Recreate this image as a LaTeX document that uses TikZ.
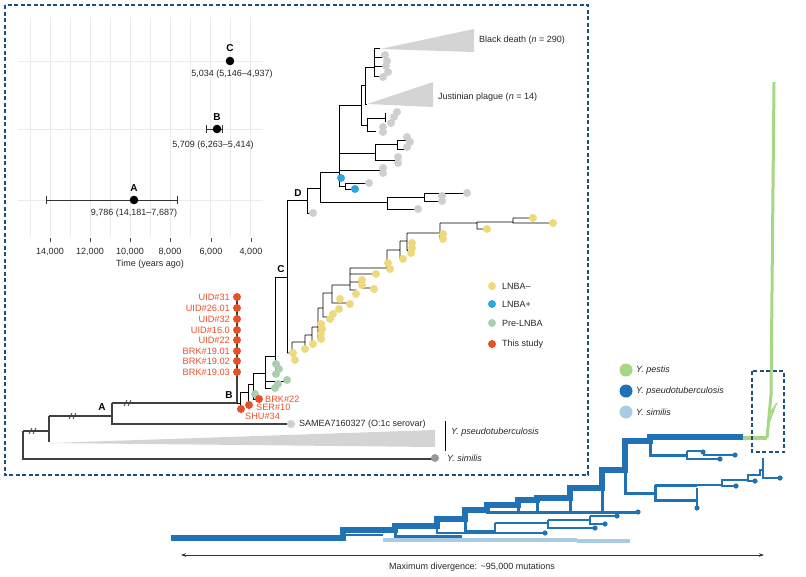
\documentclass[tikz,border=0pt]{standalone}
\usepackage{fontspec}
\setmainfont{Liberation Sans}
\usetikzlibrary{arrows.meta}
\definecolor{framecol}{HTML}{1F4E79}
\definecolor{lnbaneg}{HTML}{EED97C}
\definecolor{lnbapos}{HTML}{2AA7E0}
\definecolor{prelnba}{HTML}{A9CFAE}
\definecolor{thisstudy}{HTML}{E8502A}
\definecolor{tipgrey}{HTML}{CFCFCF}
\definecolor{wedgegrey}{HTML}{D4D4D4}
\definecolor{gridgrey}{HTML}{EBEBEB}
\definecolor{pestis}{HTML}{A6D785}
\definecolor{pseudo}{HTML}{2171B5}
\definecolor{similis}{HTML}{A9CCE3}
\tikzset{
  gridline/.style={draw=gridgrey, line width=0.6pt},
  errbar/.style={draw=black!80, line width=0.8pt},
  backbone/.style={draw=black!75, line width=1.3pt},
  treeline/.style={draw=black, line width=0.9pt},
  lab/.style={font=\fontsize{9}{10}\selectfont, text=black!85, inner sep=0pt},
  redlab/.style={lab, font=\fontsize{9.2}{10}\selectfont, text=thisstudy},
  cladelab/.style={font=\bfseries\fontsize{10}{12}\selectfont, inner sep=0pt},
  trunk/.style={draw=pseudo, line width=5.5pt},
  limb/.style={draw=pseudo, line width=3pt},
  twig/.style={draw=pseudo, line width=1.8pt},
  insetframe/.style={draw=framecol, line width=1.6pt, dash pattern=on 4pt off 2.5pt},
}
\newcommand{\brkmark}[2]{\draw[black!75, line width=0.8pt] (#1-4,#2+3) -- (#1-1,#2-3) (#1,#2+3) -- (#1+3,#2-3);}

\begin{document}
\begin{tikzpicture}[x=1pt, y=-1pt]
  \useasboundingbox (0,0) rectangle (806,576);

  % time panel
  \foreach \gx in {30,50,...,250} \draw[gridline] (\gx,17) -- (\gx,236);
  \foreach \gy in {61,129,200} \draw[gridline] (18,\gy) -- (263,\gy);
  \foreach \tx/\tl in {50/{14,000}, 90/{12,000}, 130/{10,000}, 170/{8,000}, 211/{6,000}, 251/{4,000}} {
    \draw[black!70, line width=0.6pt] (\tx,238) -- (\tx,242);
    \node[lab] (tick\tx) at (\tx,252) {\tl};
  }
  \node[lab] (timelab) at (150,264) {Time (years ago)};
  \draw[errbar] (46,200) -- (177,200) (46,196) -- (46,204) (177,196) -- (177,204);
  \draw[errbar] (206,129) -- (222,129) (206,125) -- (206,133) (222,125) -- (222,133);
  \fill (230,61) circle (4.3pt);
  \fill (217,129) circle (4.3pt);
  \fill (134,200) circle (4.3pt);
  \node[cladelab] (ageC) at (230,48) {C};
  \node[cladelab] (ageB) at (217,117) {B};
  \node[cladelab] (ageA) at (134,188) {A};
  \node[lab] (dateC) at (232,74) {5,034 (5,146–4,937)};
  \node[lab] (dateB) at (213,145) {5,709 (6,263–5,414)};
  \node[lab] (dateA) at (134,213) {9,786 (14,181–7,687)};

  % outgroups and backbone
  \fill[wedgegrey] (50,443) -- (435,430) -- (435,447) -- cycle;
  \draw[backbone] (23,431) -- (23,459) -- (435,459);
  \draw[backbone] (23,431) -- (49,431) (49,416) -- (49,442);
  \draw[backbone] (49,416) -- (112,416) (112,403) -- (112,424) -- (291,424);
  \draw[backbone] (112,403) -- (237,403) (237,297) -- (237,403);
  \brkmark{33}{431}
  \brkmark{73}{416}
  \brkmark{128}{403}
  \node[cladelab] (nodeA) at (102,407) {A};
  \node[cladelab] (nodeB) at (229,395) {B};
  \node[cladelab] (nodeC) at (281,269) {C};
  \node[cladelab] (nodeD) at (298,193) {D};
  \draw[black, line width=0.8pt] (445,421) -- (445,451);
  \node[lab, anchor=west] (pseudolab) at (451,432) {\itshape Y. pseudotuberculosis};
  \node[lab, anchor=west] (similislab) at (447,458) {\itshape Y. similis};
  \node[lab, anchor=west] (samealab) at (299,424) {SAMEA7160327 (O:1c serovar)};
  \fill[tipgrey] (291,424) circle (4pt);
  \fill[black!40] (435,458) circle (4pt);

  % B and pre-LNBA
  \draw[treeline] (237,403) -- (240,403) (240,392) -- (240,409) -- (241,409)
    (240,392) -- (248,392) (248,384) -- (248,405) -- (249,405)
    (248,384) -- (253,384) (253,373) -- (253,399) -- (259,399) (253,394) -- (255,394)
    (253,373) -- (265,373) (265,356) -- (265,388) -- (275,388) (265,381) -- (287,381)
    (265,356) -- (275,356) (275,277) -- (275,374) (275,369) -- (279,369)
    (275,277) -- (287,277) (287,200) -- (287,353);

  % C clade (LNBA-)
  \draw[treeline] (287,353) -- (292,353) (292,342) -- (292,356) -- (294,356)
    (292,342) -- (305,342) (305,335) -- (305,348)
    (305,335) -- (312,335) (312,327) -- (312,343)
    (312,327) -- (318,327) (318,308) -- (318,338) -- (321,338)
    (318,324) -- (321,324) (318,331) -- (322,331)
    (318,308) -- (323,308) (323,293) -- (323,317) -- (330,317)
    (323,293) -- (332,293) (332,285) -- (332,303) -- (350,303)
    (332,285) -- (350,285) (350,268) -- (350,290) -- (356,290)
    (350,282) -- (362,282) (362,279) -- (362,288) -- (374,288)
    (350,274) -- (376,274)
    (350,268) -- (387,268) (387,250) -- (387,269) -- (390,269)
    (387,250) -- (400,250) (400,241) -- (400,258) -- (403,258)
    (400,241) -- (407,241) (407,233) -- (407,250) -- (411,252)
    (407,233) -- (440,233) (440,223) -- (440,238) -- (443,238)
    (440,223) -- (477,223) (477,222) -- (477,229) -- (487,229)
    (477,222) -- (513,222) (513,218) -- (513,223) -- (553,223) (513,218) -- (533,218);

  % D clade
  \fill[wedgegrey] (380,49) -- (474,29) -- (474,52) -- cycle;
  \fill[wedgegrey] (367,104) -- (433,82) -- (433,107) -- cycle;
  \draw[treeline] (287,200) -- (307,200) (307,188) -- (307,213) -- (313,213)
    (307,188) -- (320,188) (320,172) -- (320,202) -- (387,202)
    (387,197) -- (387,209) -- (418,209) (387,197) -- (424,197)
    (424,193) -- (424,201) -- (442,201) (424,193) -- (467,193)
    (320,172) -- (339,172) (339,105) -- (339,186) -- (345,186)
    (345,183) -- (345,189) -- (355,189) (345,183) -- (369,183)
    (339,178) -- (341,178) (339,170) -- (380,170) (380,168) -- (380,173) -- (383,173)
    (339,153) -- (375,153) (375,144) -- (375,160) -- (398,160)
    (375,144) -- (397,144) (397,140) -- (397,149) -- (407,149) (397,140) -- (407,140)
    (339,105) -- (361,105) (361,85) -- (361,125) -- (367,125)
    (367,118) -- (367,131) -- (376,131) (367,118) -- (385,118) (385,113) -- (385,122)
    (361,85) -- (365,85) (365,67) -- (365,104) -- (367,104)
    (365,67) -- (374,67) (374,48) -- (374,76) -- (383,76) (374,48) -- (380,48)
    (374,57) -- (385,57) (374,66) -- (386,66);
  \node[lab, anchor=west] (blackdeath) at (479,40) {Black death (\textit{n} = 290)};
  \node[lab, anchor=west] (justinian) at (438,97) {Justinian plague (\textit{n} = 14)};

  % tips
  \foreach \px/\py in {313/213, 418/209, 442/196, 442/201, 467/193, 369/183, 383/168, 383/173,
      398/157, 398/163, 407/137, 410/142, 407/147, 397/112, 394/117, 391/123, 383/127, 383/132,
      385/55, 387/61, 386/66, 388/72, 383/77}
    \fill[tipgrey] (\px,\py) circle (4pt);
  \foreach \px/\py in {341/178, 355/189} \fill[lnbapos] (\px,\py) circle (4pt);
  \foreach \px/\py in {293/353, 295/360, 305/349, 313/344, 321/339, 321/334, 322/329, 321/324,
      330/319, 333/314, 339/309, 340/299, 350/304, 356/294, 362/280, 362/285, 374/289, 376/274,
      388/263, 390/269, 403/259, 411/253, 412/248, 412/243, 443/234, 443/239, 487/229, 533/218, 553/223}
    \fill[lnbaneg] (\px,\py) circle (4pt);
  \foreach \px/\py in {276/364, 279/369, 276/374, 287/380, 278/384, 275/388, 255/394}
    \fill[prelnba] (\px,\py) circle (4pt);
  \foreach \py/\rl [count=\ri] in {297/UID\#31, 308/UID\#26.01, 319/UID\#32, 330/UID\#16.0,
      340/UID\#22, 351/BRK\#19.01, 361/BRK\#19.02, 372/BRK\#19.03} {
    \fill[thisstudy] (237,\py) circle (4pt);
    \node[redlab, anchor=east] (uid\ri) at (230,\py) {\rl};
  }
  \fill[thisstudy] (241,409) circle (4pt);
  \fill[thisstudy] (249,405) circle (4pt);
  \fill[thisstudy] (259,399) circle (4pt);
  \node[redlab, anchor=west] (brk22) at (265,399) {BRK\#22};
  \node[redlab, anchor=west] (ser10) at (256,407.5) {SER\#10};
  \node[redlab, anchor=west] (shu34) at (245,416) {SHU\#34};

  % legend of the inset
  \foreach \ly/\lc/\lt in {286/lnbaneg/LNBA–, 304/lnbapos/LNBA+, 323/prelnba/Pre-LNBA, 344/thisstudy/This study} {
    \fill[\lc] (492,\ly) circle (4pt);
    \node[lab, anchor=west] (leg\ly) at (502,\ly) {\lt};
  }
  \draw[insetframe] (5,5) rectangle (588,475);

  % whole genus tree
  \draw[similis, line width=4.5pt] (383,540) -- (577,540);
  \draw[similis, line width=3.5pt] (577,541) -- (630,541);
  \draw[twig] (343,535) -- (383,535);
  \draw[limb] (395,530) -- (395,536) -- (462,536);
  \draw[twig] (437,526) -- (437,533) -- (505,533);
  \draw[limb] (465,519) -- (465,531) -- (495,531);
  \draw[twig] (495,523) -- (495,533) -- (545,533) (495,523) -- (548,523)
    (548,520) -- (548,528) -- (595,528) (548,520) -- (590,520)
    (590,516) -- (590,524) -- (605,524) (590,516) -- (617,516);
  \draw[limb] (487,510) -- (487,512) -- (638,512);
  \draw[limb] (518,505) -- (518,512) (537,500) -- (537,512) (570,498) -- (570,512) (602,488) -- (602,511);
  \draw[limb] (625,470) -- (625,493) -- (655,493) (655,485) -- (655,500) -- (697,500);
  \draw[twig] (697,488) -- (697,508);
  \draw[limb] (655,485) -- (697,485);
  \draw[twig] (697,485) -| (722,480) -| (748,475) -| (760,470) -- (763,470)
    (763,458) -- (763,478) -- (780,478)
    (722,480) -- (722,486) -- (736,486) (748,475) -- (748,481) -- (755,481);
  \draw[limb] (650,437) -- (650,455) -- (687,455);
  \draw[twig] (687,451) -- (687,459) -- (720,459) (687,451) -- (703,451) (703,455) -- (735,455);
  \draw[trunk] (171,538) -| (343,530) -| (395,526) -| (437,519) -| (465,510) -| (487,505)
    -| (518,500) -| (537,498) -| (570,488) -| (602,470) -| (625,441) -| (650,437) -- (743,437);
  \foreach \px/\py in {638/512, 735/455, 720/459, 703/452, 780/478, 736/486, 755/481,
      697/508, 617/516, 605/524, 595/528, 545/533}
    \fill[pseudo] (\px,\py) circle (2.6pt);
  \draw[pestis, line width=3.5pt] (743,438) -- (767,438);
  \draw[pestis, line width=3pt] (767,438) -- (771,395) -- (774,82);
  \draw[pestis, line width=1.5pt] (769,415) -- (777,403) (768,425) -- (775,407);
  \draw[insetframe, line width=1.5pt] (752,371) rectangle (784,452);

  % species legend
  \foreach \sy/\sc/\st in {370/pestis/Y. pestis, 391/pseudo/Y. pseudotuberculosis, 412/similis/Y. similis} {
    \fill[\sc] (626,\sy) circle (6.5pt);
    \node[lab, anchor=west] (sp\sy) at (636,\sy) {\itshape \st};
  }

  % divergence scale
  \coordinate (divleft) at (181,555);
  \coordinate (divright) at (764,555);
  \draw[{Stealth[length=5pt, width=3.5pt]}-{Stealth[length=5pt, width=3.5pt]}, black!80, line width=0.7pt] (divleft) -- (divright);
  \node[lab] (divlab) at (472,567) {Maximum divergence: \textasciitilde95,000 mutations};
\end{tikzpicture}
\end{document}
